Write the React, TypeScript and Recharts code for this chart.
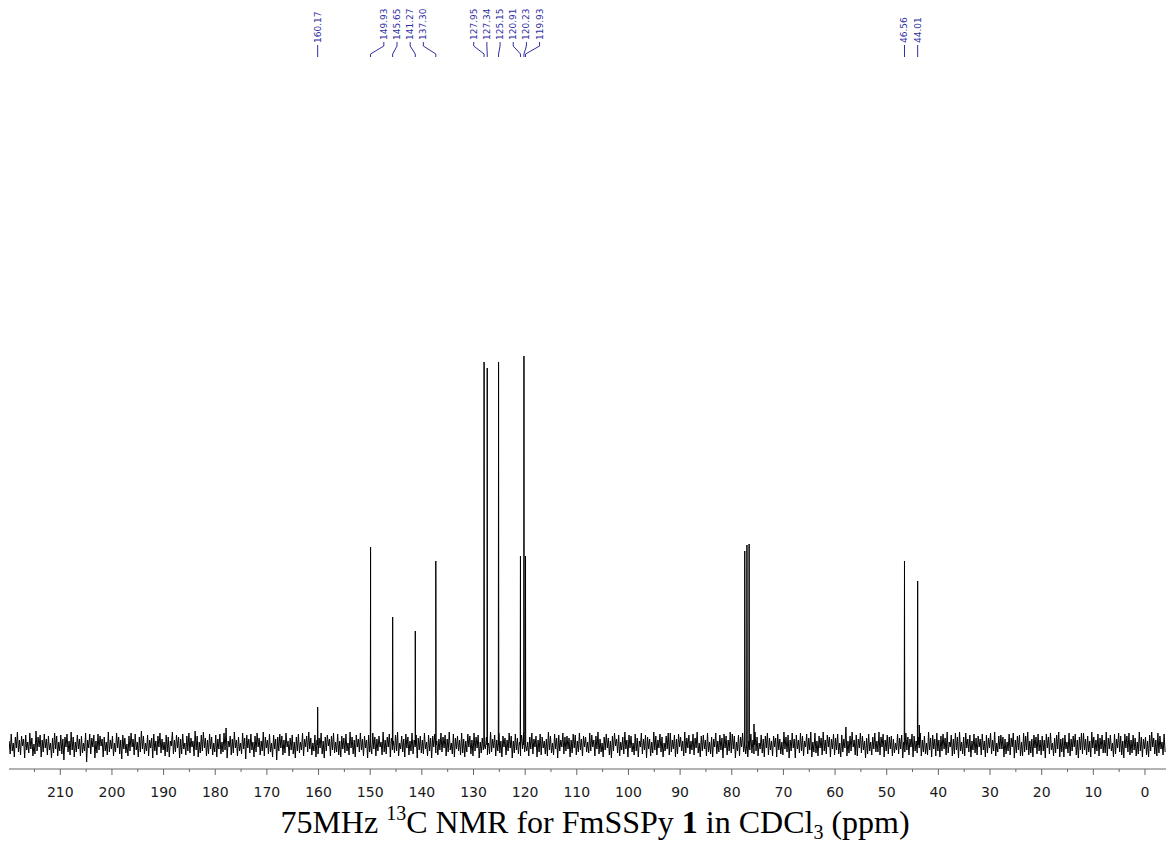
import React from "react";
import {
  LineChart,
  Line,
  XAxis,
  YAxis,
  ReferenceLine,
  ReferenceDot,
} from "recharts";

// spectrum sampled from 219.9 ppm downwards in 0.2 ppm steps (baseline noise)
const NOISE_START = 219.9;
const NOISE_STEP = 0.2;
const NOISE = [
  4, -9, 11, -6, 2, -12, 8, -3, 13, -7, 5, -10, 9, -1, 6, -13, 10, -5, 3, -8,
  12, -4, 7, -11, 1, -9, 14, -6, 8, -2, 10, -12, 5, -7, 11, -3, 6, -10, 9, -5,
  2, -13, 7, -8, 12, -4, 9, -11, 3, -6, 10, -9, 6, -15, 8, -2, 11, -7, 4, -10,
  13, -5, 8, -12, 3, -7, 10, -4, 6, -11, 9, -8, 2, -6, 12, -17, 5, -3, 11, -9,
  7, -2, 10, -13, 4, -8, 11, -5, 9, -1, 6, -12, 8, -6, 3, -10, 13, -7, 5, -4,
  9, -11, 2, -7, 12, -3, 8, -9, 5, -14, 10, -4, 7, -8, 1, -11, 9, -6, 12, -2,
  6, -10, 11, -5, 3, -12, 8, -7, 14, -4, 9, -9, 2, -6, 10, -11, 5, -3, 7, -13,
  11, -6, 4, -10, 9, -2, 12, -8, 6, -5, 3, -11, 10, -7, 8, -12, 4, -1, 13, -9,
  5, -7, 10, -3, 8, -13, 6, -9, 11, -4, 2, -10, 9, -6, 12, -8, 7, -2, 4, -11,
  14, -5, 9, -12, 3, -8, 10, -6, 13, -3, 7, -11, 5, -9, 11, -4, 8, -10, 2, -7,
  10, -12, 6, -4, 11, -9, 3, -7, 12, -5, 17, -13, 4, -2, 9, -10, 6, -8, 13, -3,
  5, -11, 8, -6, 2, -9, 12, -4, 7, -14, 10, -3, 6, -8, 11, -5, 3, -12, 9, -7,
  12, -2, 7, -10, 4, -6, 13, -11, 8, -3, 5, -9, 11, -7, 2, -12, 10, -4, 6, -15,
  8, -6, 11, -3, 9, -10, 5, -8, 12, -2, 4, -11, 7, -5, 10, -9, 3, -13, 8, -6,
  11, -8, 3, -5, 12, -11, 6, -2, 9, -7, 13, -4, 7, -10, 2, -6, 10, -12, 5, -9,
  7, -3, 12, -9, 4, -13, 8, -6, 10, -1, 6, -11, 9, -5, 12, -8, 3, -7, 11, -10,
  4, -12, 9, -4, 7, -8, 11, -6, 2, -10, 13, -3, 8, -9, 5, -12, 10, -2, 6, -7,
  12, -5, 6, -11, 9, -3, 5, -13, 10, -7, 3, -9, 12, -4, 8, -11, 6, -6, 9, -2,
  3, -10, 13, -7, 5, -9, 8, -2, 11, -12, 7, -5, 4, -8, 10, -6, 13, -11, 2, -4,
  9, -7, 6, -12, 11, -3, 8, -10, 4, -6, 12, -9, 5, -2, 10, -13, 7, -5, 9, -8,
  5, -9, 12, -4, 3, -11, 10, -6, 7, -13, 9, -2, 11, -8, 4, -10, 6, -5, 12, -7,
  8, -3, 10, -11, 6, -7, 13, -5, 2, -9, 11, -12, 7, -4, 9, -6, 5, -10, 12, -8,
  6, -12, 4, -7, 11, -2, 9, -9, 5, -11, 12, -6, 8, -3, 10, -13, 3, -8, 7, -5,
  11, -4, 8, -10, 2, -9, 13, -7, 6, -3, 10, -11, 5, -6, 12, -8, 4, -12, 9, -2,
  7, -10, 5, -6, 12, -3, 9, -13, 4, -8, 11, -5, 7, -9, 3, -11, 10, -4, 13, -7,
  10, -6, 3, -11, 8, -4, 12, -9, 6, -2, 9, -12, 5, -7, 11, -10, 8, -3, 4, -9,
  6, -11, 13, -5, 9, -8, 2, -10, 11, -4, 7, -13, 10, -6, 5, -2, 12, -9, 8, -6,
  9, -4, 7, -12, 5, -8, 11, -3, 10, -10, 4, -7, 12, -5, 6, -11, 9, -2, 8, -7,
  3, -8, 12, -6, 10, -2, 5, -11, 9, -4, 13, -9, 6, -7, 2, -12, 8, -5, 11, -3,
  7, -10, 4, -13, 9, -6, 12, -1, 6, -8, 10, -11, 3, -5, 8, -9, 13, -4, 5, -12,
  10, -3, 9, -7, 2, -10, 11, -6, 7, -12, 4, -2, 12, -9, 6, -5, 10, -13, 8, -4,
  6, -11, 3, -8, 13, -5, 9, -10, 5, -3, 11, -7, 8, -12, 2, -6, 9, -4, 12, -10,
  12, -7, 5, -4, 10, -12, 6, -9, 11, -2, 8, -6, 4, -11, 13, -8, 7, -3, 10, -9,
  4, -5, 11, -10, 7, -3, 13, -8, 2, -12, 9, -6, 10, -4, 5, -11, 12, -7, 3, -9,
  8, -12, 6, -2, 12, -9, 4, -7, 10, -5, 7, -13, 11, -3, 9, -10, 5, -6, 13, -8,
  11, -4, 9, -13, 3, -6, 10, -11, 8, -2, 12, -7, 5, -9, 7, -12, 4, -5, 11, -8,
  5, -9, 13, -6, 8, -11, 2, -4, 10, -8, 6, -12, 9, -3, 12, -10, 7, -5, 4, -11,
  9, -2, 7, -12, 11, -5, 6, -9, 3, -10, 13, -4, 8, -7, 10, -13, 5, -6, 12, -3,
  6, -13, 10, -4, 5, -8, 12, -6, 9, -11, 4, -2, 11, -9, 7, -5, 13, -12, 3, -7,
  12, -8, 4, -11, 9, -3, 7, -10, 13, -6, 5, -9, 10, -2, 8, -12, 6, -4, 11, -10,
  7, -5, 11, -9, 2, -12, 10, -7, 6, -3, 18, -11, 4, -8, 9, -6, 13, -2, 5, -10,
  10, -11, 6, -3, 12, -8, 9, -5, 4, -13, 7, -9, 11, -6, 3, -10, 8, -4, 12, -7,
  4, -7, 13, -10, 8, -2, 11, -12, 5, -6, 10, -9, 8, -4, 9, -11, 6, -8, 2, -5,
  11, -9, 7, -4, 10, -13, 3, -7, 12, -5, 8, -10, 6, -2, 11, -12, 9, -6, 4, -8,
  8, -3, 12, -11, 5, -7, 9, -9, 2, -10, 13, -5, 7, -12, 10, -4, 6, -11, 12, -6,
  5, -12, 9, -6, 11, -4, 7, -10, 13, -8, 3, -2, 10, -11, 6, -9, 12, -5, 8, -13,
  13, -6, 3, -9, 8, -11, 12, -3, 6, -7, 10, -12, 4, -5, 11, -8, 7, -10, 9, -2,
  6, -10, 11, -5, 4, -12, 10, -8, 7, -3, 12, -9, 5, -6, 13, -11, 2, -7, 9, -4,
  10, -4, 8, -12, 6, -9, 3, -6, 11, -10, 7, -2, 12, -13, 5, -8, 9, -5, 10, -11,
  3, -11, 12, -7, 9, -5, 13, -10, 4, -8, 6, -12, 10, -3, 8, -9, 11, -6, 5, -10,
  9, -6, 5, -13, 11, -3, 8, -9, 12, -5, 2, -11, 7, -8, 10, -4, 13, -12, 6, -7,
  7, -12, 10, -4, 3, -8, 12, -11, 6, -6, 9, -2, 11, -10, 5, -13, 8, -5, 12, -9,
  12, -5, 6, -10, 9, -7, 4, -12, 13, -3, 8, -9, 5, -6, 11, -11, 7, -4, 10, -8,
  5, -8, 13, -11, 7, -4, 10, -6, 2, -12, 11, -9, 6, -3, 12, -7, 9, -10, 4, -13,
  11, -3, 9, -7, 12, -10, 5, -8, 10, -5, 7, -11, 3, -9, 13, -6, 8, -12, 6, -4,
  8, -10, 4, -12, 10, -6, 13, -2, 7, -9, 5, -11, 12, -8, 9, -4, 3, -10, 11, -7,
];

// peaks: position (ppm) and height above baseline
const PEAK_PPM = [
  160.17, 149.93, 145.65, 141.27, 137.3, 127.95, 127.34, 125.15, 120.91, 120.23,
  119.93, 77.48, 77.06, 76.64, 75.7, 46.56, 44.01, 43.7,
];
const PEAK_HEIGHT = [
  38, 198, 128, 114, 184, 383, 377, 383, 189, 389, 189, 194, 200, 201, 21, 184,
  164, 20,
];

// peak picking labels, grouped as the labels are drawn
const LABEL_GROUPS = [
  [160.17],
  [149.93, 145.65, 141.27, 137.3],
  [127.95, 127.34, 125.15, 120.91, 120.23, 119.93],
  [46.56],
  [44.01],
];

const X_TICKS = [
  215, 210, 205, 200, 195, 190, 185, 180, 175, 170, 165, 160, 155, 150, 145,
  140, 135, 130, 125, 120, 115, 110, 105, 100, 95, 90, 85, 80, 75, 70, 65, 60,
  55, 50, 45, 40, 35, 30, 25, 20, 15, 10, 5, 0,
];

const LABEL_GAP = 2.55;
const LABEL_COLOR = "#2f2f9f";

const spectrum = (() => {
  const pts: { ppm: number; y: number }[] = NOISE.map((v, i) => ({
    ppm: +(NOISE_START - i * NOISE_STEP).toFixed(2),
    y: v,
  }));
  PEAK_PPM.forEach((p, i) => {
    pts.push({ ppm: p + 0.05, y: 0 });
    pts.push({ ppm: p, y: PEAK_HEIGHT[i] });
    pts.push({ ppm: p - 0.05, y: 0 });
  });
  return pts.sort((a, b) => b.ppm - a.ppm);
})();

const labels = LABEL_GROUPS.flatMap((g) => {
  const center = g.reduce((s, v) => s + v, 0) / g.length;
  return g.map((peak, i) => ({
    peak,
    pos: center + ((g.length - 1) / 2 - i) * LABEL_GAP,
    single: g.length === 1,
  }));
});

const AxisTick = (props: any) => {
  const { x, y, payload } = props;
  const major = payload.value % 10 === 0;
  return (
    <g>
      <line x1={x} x2={x} y1={y} y2={y + (major ? 6 : 3)} stroke="#666" />
      {major && (
        <text
          x={x}
          y={y + 28}
          textAnchor="middle"
          fontSize={14}
          fontFamily="DejaVu Sans"
          fill="#1a1a1a"
        >
          {payload.value}
        </text>
      )}
    </g>
  );
};

const PeakText = (text: string) => (props: any) => {
  const { cx, cy } = props;
  return (
    <text
      x={cx}
      y={cy}
      transform={`rotate(-90 ${cx} ${cy})`}
      fontSize={9}
      fontFamily="DejaVu Sans"
      fill={LABEL_COLOR}
      dominantBaseline="central"
    >
      {text}
    </text>
  );
};

export default function App() {
  return (
    <div style={{ position: "absolute", left: 0, top: 0, width: 1166, height: 846, background: "#fff" }}>
      <LineChart
        width={1166}
        height={846}
        data={spectrum}
        margin={{ top: 5, right: 0, left: 9, bottom: 47 }}
      >
        <XAxis
          dataKey="ppm"
          type="number"
          domain={[-4.07, 219.93]}
          reversed
          allowDataOverflow
          ticks={X_TICKS}
          interval={0}
          tickSize={0}
          tickMargin={0}
          height={30}
          axisLine={{ stroke: "#666" }}
          tick={<AxisTick />}
        />
        <YAxis type="number" domain={[-24, 740]} hide allowDataOverflow />
        <Line
          type="linear"
          dataKey="y"
          stroke="#000"
          strokeWidth={1}
          dot={false}
          isAnimationActive={false}
        />
        {labels.map((l) =>
          l.single ? (
            <ReferenceLine
              key={`s${l.peak}`}
              segment={[
                { x: l.pos, y: 700 },
                { x: l.pos, y: 688 },
              ]}
              stroke={LABEL_COLOR}
            />
          ) : (
            <React.Fragment key={`g${l.peak}`}>
              <ReferenceLine
                segment={[
                  { x: l.pos, y: 703 },
                  { x: l.pos, y: 699 },
                ]}
                stroke={LABEL_COLOR}
              />
              <ReferenceLine
                segment={[
                  { x: l.pos, y: 699 },
                  { x: l.peak, y: 691 },
                ]}
                stroke={LABEL_COLOR}
              />
              <ReferenceLine
                segment={[
                  { x: l.peak, y: 691 },
                  { x: l.peak, y: 688 },
                ]}
                stroke={LABEL_COLOR}
              />
            </React.Fragment>
          )
        )}
        {labels.map((l) => (
          <ReferenceDot
            key={`t${l.peak}`}
            x={l.pos}
            y={l.single ? 702 : 705}
            r={0}
            shape={PeakText(l.peak.toFixed(2))}
          />
        ))}
      </LineChart>
      <svg
        width={1166}
        height={60}
        style={{ position: "absolute", left: 0, top: 786 }}
      >
        <text
          x={595}
          y={47}
          textAnchor="middle"
          fontFamily="Liberation Serif"
          fontSize={32}
          fill="#000"
        >
          75MHz{" "}
          <tspan fontSize={20} dy={-13}>
            13
          </tspan>
          <tspan dy={13}>C NMR for FmSSPy </tspan>
          <tspan fontWeight="bold">1</tspan>
          <tspan> in CDCl</tspan>
          <tspan fontSize={20} dy={6}>
            3
          </tspan>
          <tspan dy={-6}> (ppm)</tspan>
        </text>
      </svg>
    </div>
  );
}
